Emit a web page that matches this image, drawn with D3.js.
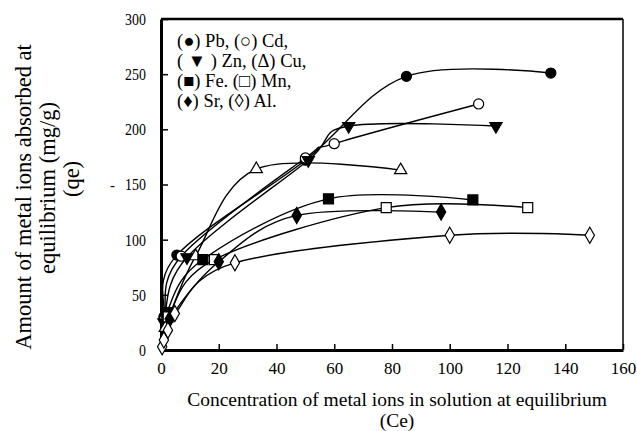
<!DOCTYPE html>
<html><head><meta charset="utf-8">
<script src="https://cdn.jsdelivr.net/npm/d3@7"></script>
<style>body{margin:0;background:#fff}svg{display:block}text{font-family:"Liberation Serif","Times New Roman",serif;fill:#000}</style>
</head><body><svg id="c" width="637" height="431"></svg>
<script>
// Data (Ce, qe)
const xTicks = [0,20,40,60,80,100,120,140,160];
const yTicks = [0,50,100,150,200,250,300];
const pbCe = [0,1,5.5,50,85,135],        pbQe = [0,30,86,172,248,251];
const cdCe = [0,1.2,7,50,60,110],        cdQe = [0,28,85,174,187,223];
const znCe = [0,1,9,51,65,116],          znQe = [0,25,84,172,203,203];
const cuCe = [0,1.5,12,33,83],           cuQe = [0,20,85,164,163];
const feCe = [0,2,14.5,58,108],          feQe = [0,34,82,137,136];
const mnCe = [0,2.5,18.5,78,127],        mnQe = [0,30,82,129,129];
const srCe = [0,3,20,47,97],             srQe = [0,28,80,122,125];
const alCe = [0,0.4,1,2.4,4.8,25.6,100,148.5], alQe = [0,3,9,18,33,79,104,104];
const legendLines = ["(●) Pb, (○) Cd,","( ▼ ) Zn, (Δ) Cu,","(■) Fe. (□) Mn,","(♦) Sr, (◊) Al."];

const series = [
 {ce:pbCe,qe:pbQe,sym:d3.symbolCircle,size:80,fill:"#000"},
 {ce:cdCe,qe:cdQe,sym:d3.symbolCircle,size:80,fill:"#fff"},
 {ce:znCe,qe:znQe,sym:"down",size:65,fill:"#000"},
 {ce:cuCe,qe:cuQe,sym:d3.symbolTriangle,size:65,fill:"#fff"},
 {ce:feCe,qe:feQe,sym:d3.symbolSquare,size:100,fill:"#000"},
 {ce:mnCe,qe:mnQe,sym:d3.symbolSquare,size:100,fill:"#fff"},
 {ce:srCe,qe:srQe,sym:d3.symbolDiamond,size:75,fill:"#000"},
 {ce:alCe,qe:alQe,sym:d3.symbolDiamond,size:75,fill:"#fff"}
];

const svg = d3.select("#c");
const x = d3.scaleLinear().domain([0,160]).range([161,623]);
const y = d3.scaleLinear().domain([0,300]).range([350,19]);

// frame
svg.append("line").attr("x1",x(0)).attr("x2",x(160)).attr("y1",y(300)).attr("y2",y(300)).attr("stroke","#000").attr("stroke-width",2.5);
svg.append("line").attr("x1",x(160)).attr("x2",x(160)).attr("y1",y(300)).attr("y2",y(0)).attr("stroke","#000").attr("stroke-width",1.5);

const xa = svg.append("g").attr("transform",`translate(0,${y(0)})`)
  .call(d3.axisBottom(x).tickValues(xTicks).tickSizeInner(-6).tickSizeOuter(0).tickPadding(12));
xa.select(".domain").attr("stroke-width",3);
xa.selectAll(".tick line").attr("stroke-width",1.5);
xa.selectAll("text").attr("font-size",17).attr("font-family","Liberation Serif");

const ya = svg.append("g").attr("transform",`translate(${x(0)},0)`)
  .call(d3.axisLeft(y).tickValues(yTicks).tickSizeInner(-7).tickSizeOuter(0));
ya.select(".domain").attr("stroke-width",3);
ya.selectAll(".tick line").attr("stroke-width",1.5);
ya.selectAll("text").attr("font-size",17).attr("font-family","Liberation Serif")
  .attr("x",0).attr("transform","translate(-15,0) scale(0.82,1)");

const line = d3.line().x(d=>x(d[0])).y(d=>y(d[1])).curve(d3.curveCardinal.tension(0));
series.forEach(s=>{
  const pts = s.ce.map((c,i)=>[c,s.qe[i]]);
  svg.append("path").attr("d",line(pts)).attr("fill","none").attr("stroke","#000").attr("stroke-width",1.4);
});
series.forEach(s=>{
  const pts = s.ce.map((c,i)=>[c,s.qe[i]]).filter(p=>p[0]>0);
  const g = svg.append("g");
  pts.forEach(p=>{
    let path, rot = 0;
    if (s.sym==="down") { path = d3.symbol(d3.symbolTriangle, s.size)(); rot = 180; }
    else path = d3.symbol(s.sym, s.size)();
    g.append("path").attr("d",path)
      .attr("transform",`translate(${x(p[0])},${y(p[1])}) rotate(${rot})`)
      .attr("fill",s.fill).attr("stroke","#000").attr("stroke-width",1.2);
  });
});

// legend
legendLines.forEach((t,i)=>{
  svg.append("text").attr("x",177).attr("y",47+i*20).attr("font-size",18.5).text(t);
});

// axis titles
svg.append("text").attr("x",397).attr("y",406).attr("text-anchor","middle").attr("font-size",19.5)
  .text("Concentration of metal ions in solution at equilibrium");
svg.append("text").attr("x",397).attr("y",427).attr("text-anchor","middle").attr("font-size",19.5).text("(Ce)");
const yl = [["Amount of metal ions absorbed at",31,197],["equilibrium (mg/g)",55,188],["(qe)",79,179]];
yl.forEach(([t,cx,cy])=>{
  svg.append("text").attr("transform",`translate(${cx},${cy}) rotate(-90)`).attr("text-anchor","middle")
    .attr("font-size",22.5).text(t);
});
svg.append("text").attr("x",110).attr("y",190).attr("font-size",15).text("-");
</script></body></html>
